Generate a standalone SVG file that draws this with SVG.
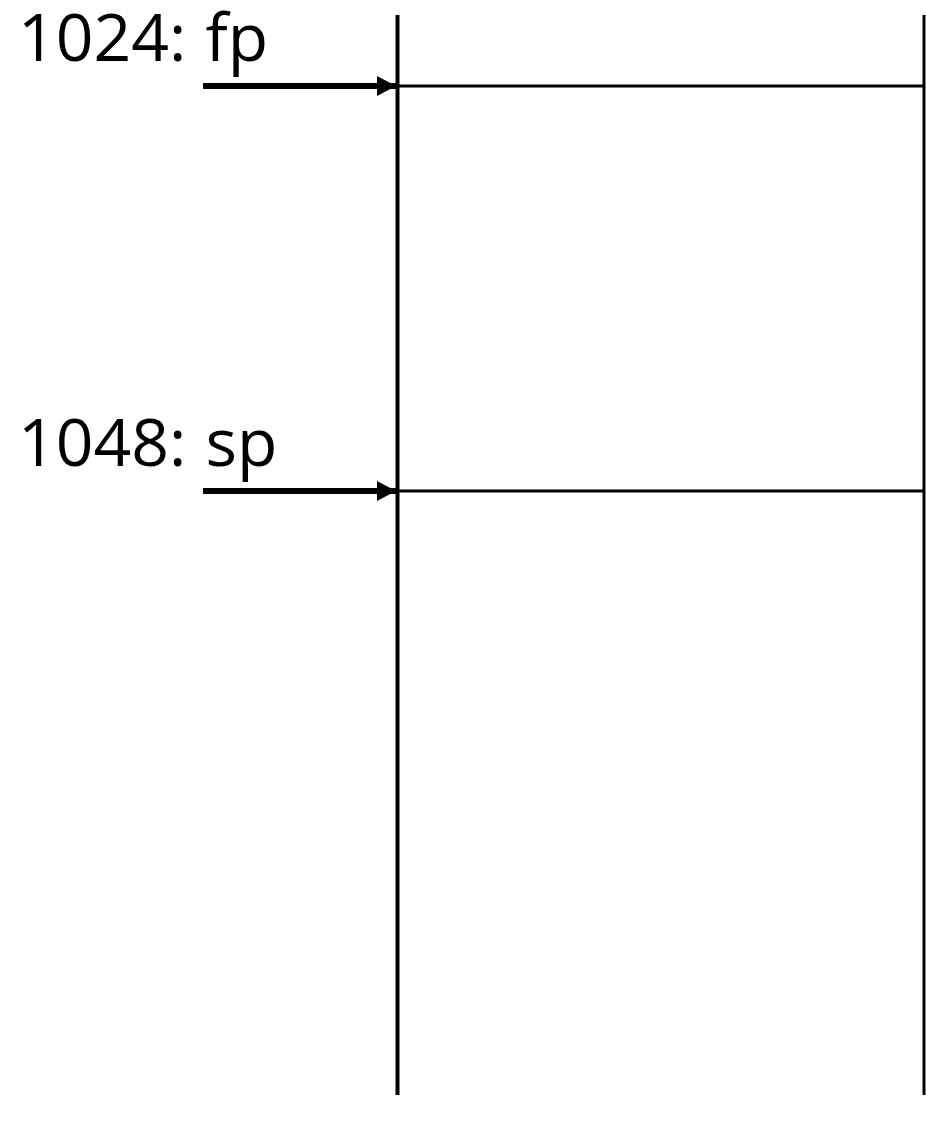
<svg xmlns="http://www.w3.org/2000/svg" width="926" height="1123" viewBox="0 0 926 1123">
<style>
.lbl{font-family:"Open Sans","Liberation Sans",sans-serif;font-size:66px;fill:#000;word-spacing:2px}
.ln{stroke:#000;stroke-width:3;fill:none}
.arr{stroke:#000;stroke-width:6;fill:none}
</style>
<defs>
<marker id="ah" markerUnits="userSpaceOnUse" markerWidth="19" markerHeight="20" refX="19" refY="10" orient="auto">
<path d="M0,0 L19,10 L0,20 Z" fill="#000"/>
</marker>
</defs>
<rect width="926" height="1123" fill="#fff"/>
<g id="stack">
<line class="ln" x1="397.5" y1="15" x2="397.5" y2="1095" style="stroke-width:4"/>
<line class="ln" x1="924" y1="15" x2="924" y2="1095"/>
<line class="ln" x1="397" y1="86" x2="924" y2="86"/>
<line class="ln" x1="397" y1="491" x2="924" y2="491"/>
</g>
<g id="fp">
<text class="lbl" x="18" y="61">1024: fp</text>
</g>
<g id="sp">
<text class="lbl" x="18" y="466">1048: sp</text>
</g>
<g id="connectors">
<line class="arr" x1="203" y1="86" x2="396" y2="86" marker-end="url(#ah)"/>
<line class="arr" x1="203" y1="491" x2="396" y2="491" marker-end="url(#ah)"/>
</g>
</svg>
